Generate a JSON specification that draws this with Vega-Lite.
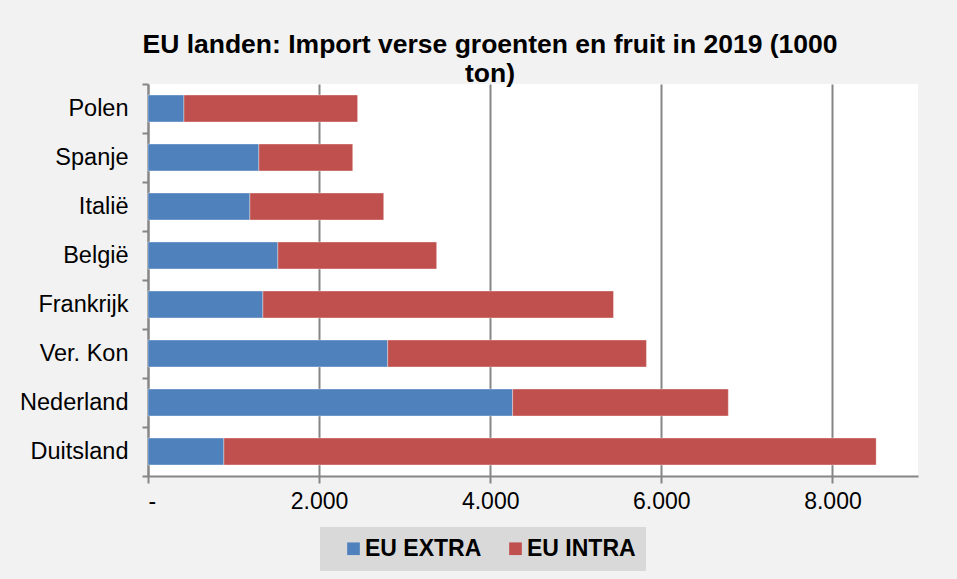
{
  "$schema": "https://vega.github.io/schema/vega-lite/v6.json",
  "width": 770,
  "height": 392,
  "autosize": "none",
  "padding": {"left": 148, "top": 84, "right": 39, "bottom": 103},
  "background": "#f2f2f2",
  "title": {
    "text": ["EU landen: Import verse groenten en fruit in 2019 (1000", "ton)"],
    "font": "Liberation Sans",
    "fontSize": 26.5,
    "fontWeight": "bold",
    "color": "#000000",
    "anchor": "middle",
    "dx": -43,
    "lineHeight": 29,
    "offset": -15
  },
  "data": {
    "values": [
      {"land": "Polen", "herkomst": "EU EXTRA", "volgorde": 1, "ton": 420},
      {"land": "Polen", "herkomst": "EU INTRA", "volgorde": 2, "ton": 2030},
      {"land": "Spanje", "herkomst": "EU EXTRA", "volgorde": 1, "ton": 1296},
      {"land": "Spanje", "herkomst": "EU INTRA", "volgorde": 2, "ton": 1097},
      {"land": "Italië", "herkomst": "EU EXTRA", "volgorde": 1, "ton": 1191},
      {"land": "Italië", "herkomst": "EU INTRA", "volgorde": 2, "ton": 1564},
      {"land": "België", "herkomst": "EU EXTRA", "volgorde": 1, "ton": 1518},
      {"land": "België", "herkomst": "EU INTRA", "volgorde": 2, "ton": 1856},
      {"land": "Frankrijk", "herkomst": "EU EXTRA", "volgorde": 1, "ton": 1343},
      {"land": "Frankrijk", "herkomst": "EU INTRA", "volgorde": 2, "ton": 4098},
      {"land": "Ver. Kon", "herkomst": "EU EXTRA", "volgorde": 1, "ton": 2802},
      {"land": "Ver. Kon", "herkomst": "EU INTRA", "volgorde": 2, "ton": 3024},
      {"land": "Nederland", "herkomst": "EU EXTRA", "volgorde": 1, "ton": 4262},
      {"land": "Nederland", "herkomst": "EU INTRA", "volgorde": 2, "ton": 2521},
      {"land": "Duitsland", "herkomst": "EU EXTRA", "volgorde": 1, "ton": 887},
      {"land": "Duitsland", "herkomst": "EU INTRA", "volgorde": 2, "ton": 7624}
    ]
  },
  "mark": {"type": "bar", "height": {"band": 0.55}, "stroke": "#ffffff", "strokeOpacity": 0.35, "strokeWidth": 1},
  "encoding": {
    "y": {
      "field": "land",
      "type": "nominal",
      "sort": ["Polen", "Spanje", "Italië", "België", "Frankrijk", "Ver. Kon", "Nederland", "Duitsland"],
      "scale": {"paddingInner": 0, "paddingOuter": 0},
      "axis": {
        "title": null,
        "tickBand": "extent",
        "ticks": true,
        "tickSize": 6,
        "tickColor": "#868686",
        "tickWidth": 2,
        "domainColor": "#868686",
        "domainWidth": 2,
        "labelFont": "Liberation Sans",
        "labelFontSize": 23.5,
        "labelColor": "#000000",
        "labelPadding": 14,
        "grid": false
      }
    },
    "x": {
      "field": "ton",
      "type": "quantitative",
      "stack": "zero",
      "scale": {"domain": [0, 9000], "nice": false},
      "axis": {
        "title": null,
        "values": [0, 2000, 4000, 6000, 8000],
        "labelExpr": "datum.value == 0 ? '-' : replace(format(datum.value, ','), ',', '.')",
        "grid": true,
        "gridColor": "#868686",
        "gridWidth": 2,
        "tickSize": 7,
        "tickColor": "#868686",
        "tickWidth": 2,
        "domainColor": "#868686",
        "domainWidth": 2,
        "labelFont": "Liberation Sans",
        "labelFontSize": 23,
        "labelColor": "#000000",
        "labelPadding": 7
      }
    },
    "color": {
      "field": "herkomst",
      "type": "nominal",
      "scale": {"domain": ["EU EXTRA", "EU INTRA"], "range": ["#4f81bd", "#c0504d"]},
      "legend": {
        "title": null,
        "orient": "none",
        "direction": "horizontal",
        "legendX": 172,
        "legendY": 443,
        "fillColor": "#d9d9d9",
        "padding": 10,
        "symbolOffset": 12,
        "symbolType": "square",
        "symbolSize": 160,
        "symbolStrokeWidth": 0,
        "symbolOpacity": 1,
        "labelFont": "Liberation Sans",
        "labelFontSize": 23,
        "labelFontWeight": "bold",
        "labelColor": "#000000",
        "labelOffset": 0,
        "columnPadding": 10
      }
    },
    "order": {"field": "volgorde", "type": "quantitative"}
  },
  "config": {
    "view": {"fill": "#ffffff", "stroke": null}
  }
}
